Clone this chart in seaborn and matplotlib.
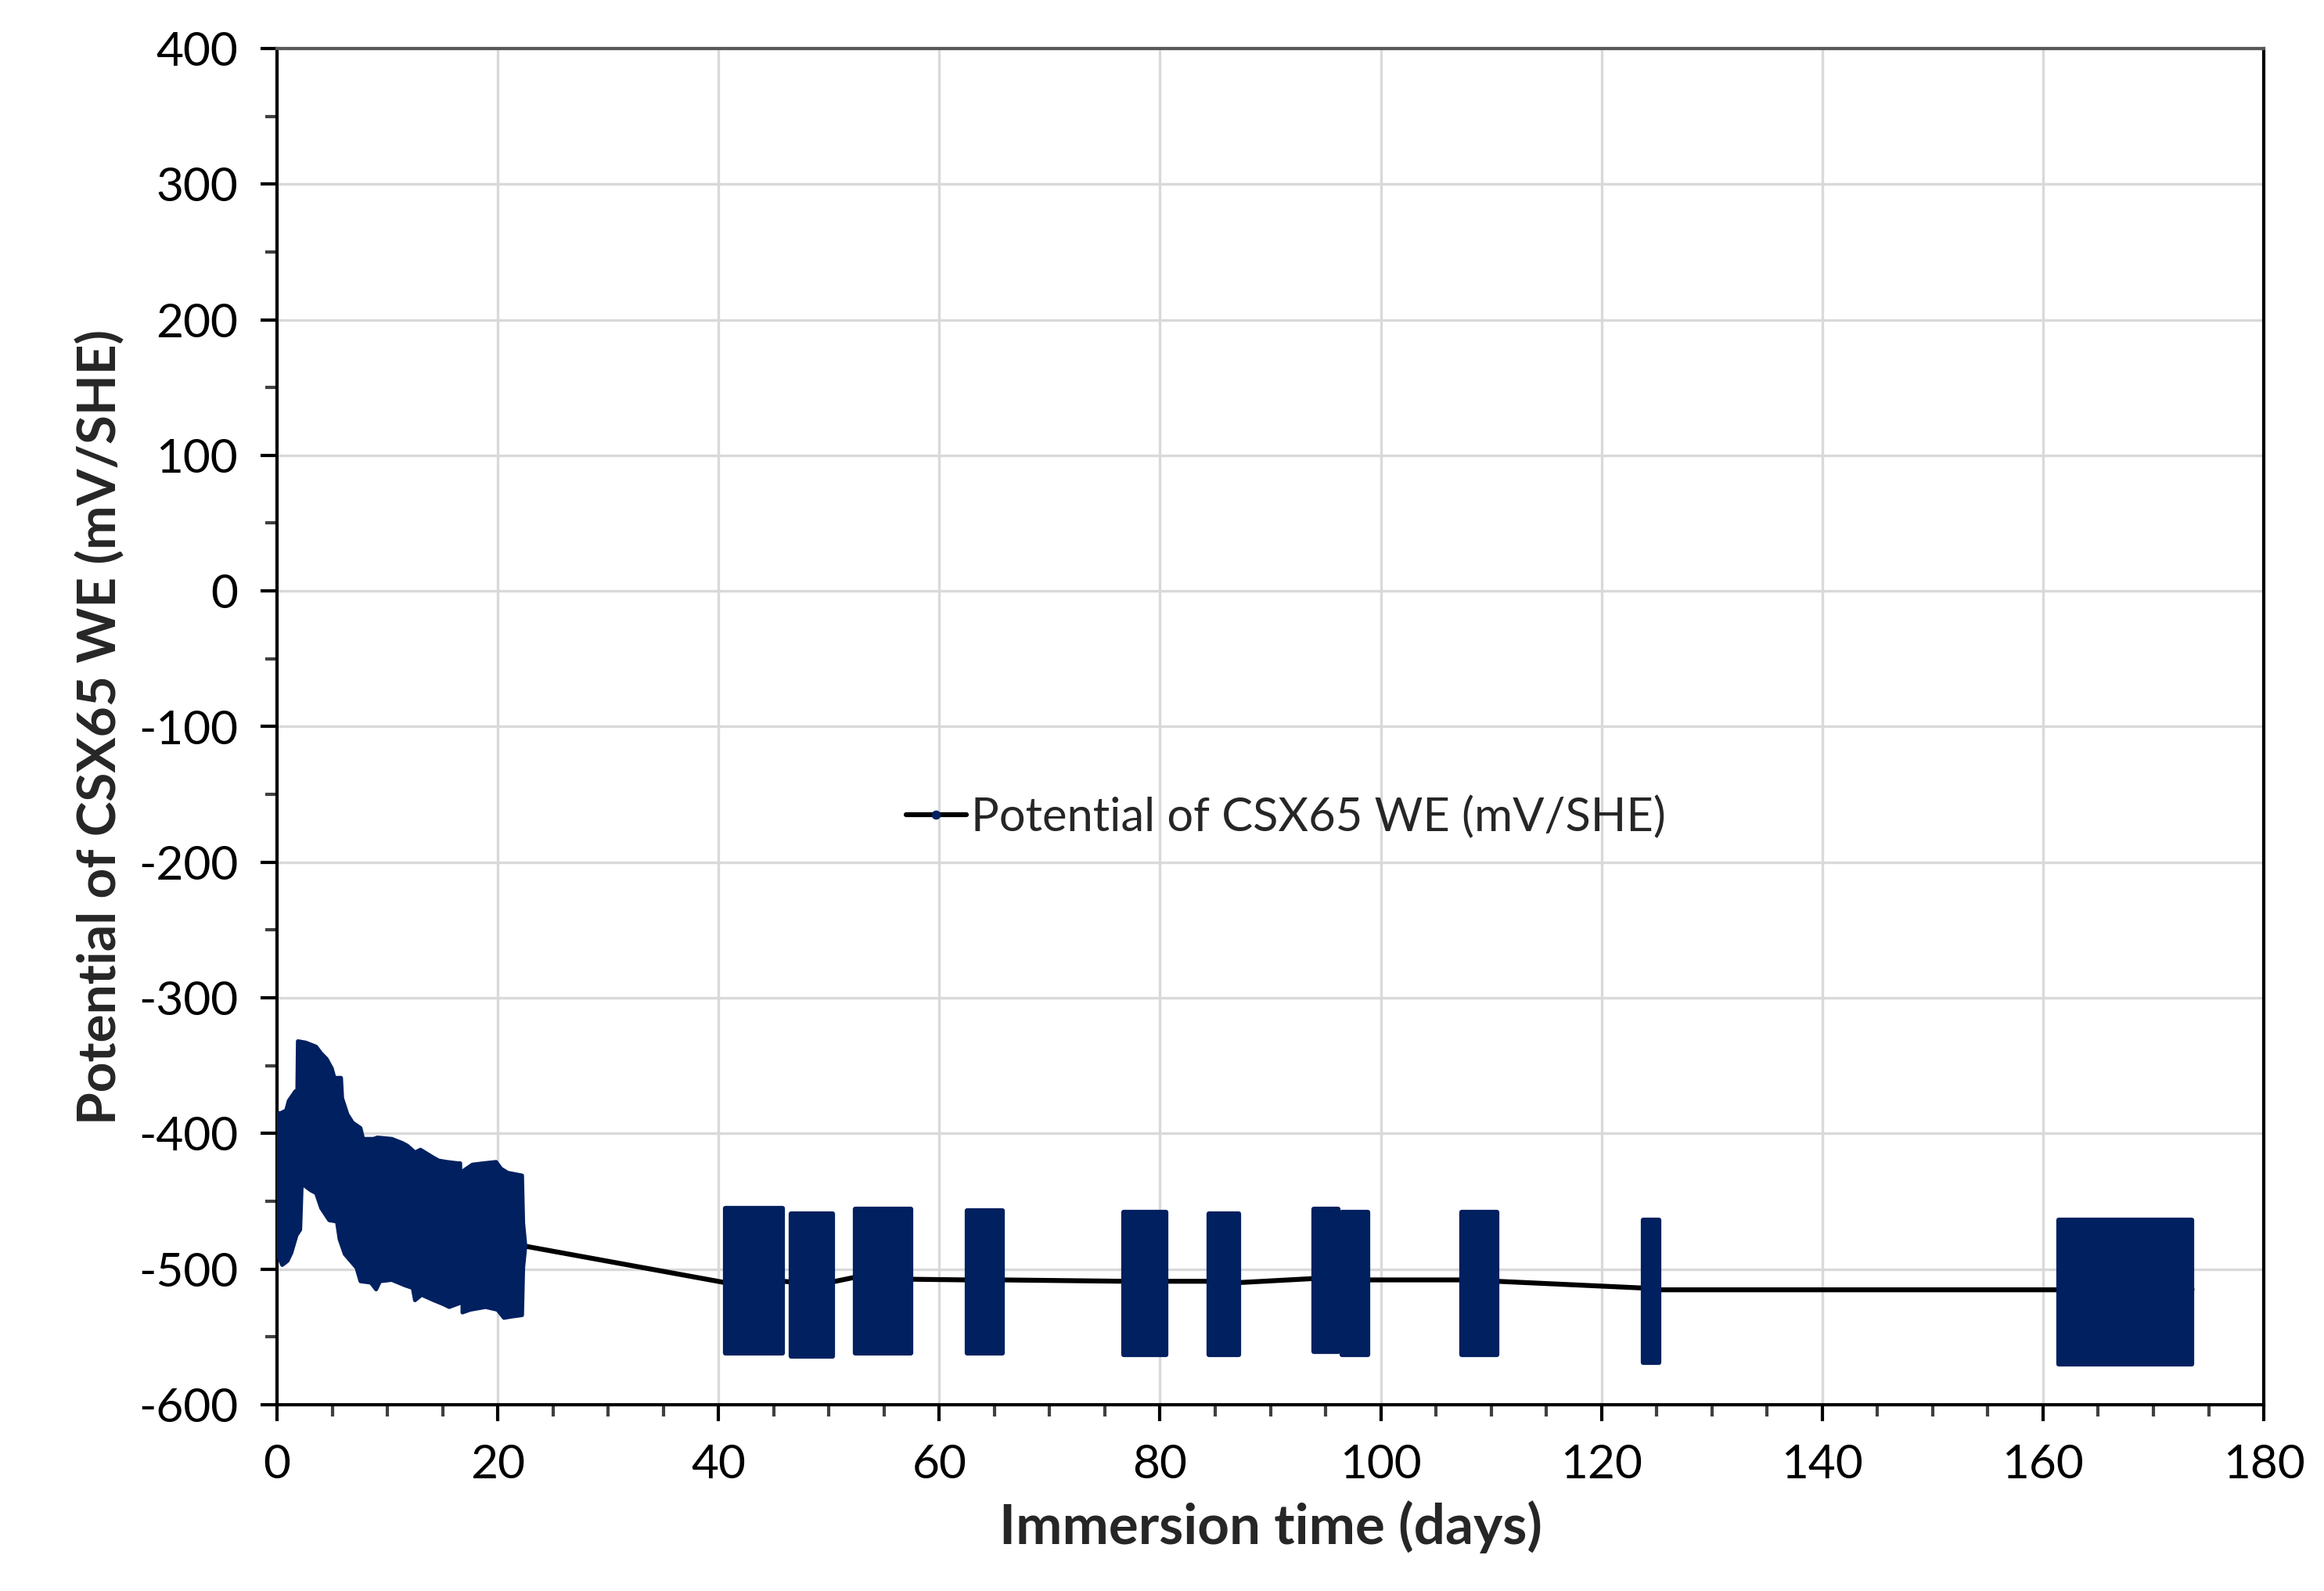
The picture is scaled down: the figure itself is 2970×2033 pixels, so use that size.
import matplotlib
matplotlib.use("Agg")
import matplotlib.pyplot as plt
from matplotlib.ticker import MultipleLocator
from matplotlib.lines import Line2D
import numpy as np
import seaborn as sns

# -----------------------------
# Data
# -----------------------------
# first block (0 - 22 days), upper / lower envelope of the dense oscillation
b1_top_day = [0.0, 0.35, 0.83, 1.06, 1.65, 1.84, 1.89, 2.6, 3.54, 4.0, 4.49, 4.96, 5.2, 5.8, 5.9,
              6.38, 6.85, 7.56, 7.8, 8.74, 9.1, 10.4, 11.34, 11.8, 12.5, 13.0, 14.2, 14.65, 15.4,
              16.4, 16.6]
b1_top_val = [-385, -385, -383, -376, -369, -368, -332, -333, -336, -341, -345, -352, -359, -359, -374,
              -386, -392, -396, -404, -404, -403, -404, -407, -409, -414, -412, -418, -420, -421,
              -422, -422]
b1_bot_day = [0.0, 0.47, 0.95, 1.3, 1.77, 2.1, 2.24, 3.07, 3.54, 4.0, 4.73, 5.43, 5.67, 6.14, 7.2,
              7.56, 8.5, 8.98, 9.33, 10.4, 11.58, 12.3, 12.5, 13.1, 14.2, 15.1, 15.6, 16.6]
b1_bot_val = [-488, -497, -494, -488, -475, -471, -437, -442, -444, -455, -464, -465, -478, -489, -499,
              -509, -510, -515, -509, -508, -512, -514, -523, -519, -523, -526, -528, -525]

b2_top_day = [16.8, 17.7, 18.7, 19.85, 20.3, 20.9, 22.2, 22.3, 22.5]
b2_top_val = [-428, -423, -422, -421, -426, -429, -431, -466, -483]
b2_bot_day = [16.8, 17.5, 18.9, 19.97, 20.56, 21.27, 22.2, 22.3, 22.5]
b2_bot_val = [-532, -530, -528, -530, -536, -535, -534, -499, -483]

# later measurement blocks: start day, end day, upper and lower envelope
blk_start = [40.6, 46.6, 52.4, 62.5, 76.7, 84.4, 93.9, 96.5, 107.3, 123.8, 161.4]
blk_end = [45.8, 50.3, 57.4, 65.7, 80.5, 87.1, 96.1, 98.8, 110.5, 125.2, 173.5]
blk_top = [-455, -459, -456, -457, -458, -459, -456, -458, -458, -464, -464]
blk_bot = [-562, -564, -562, -562, -563, -563, -561, -563, -563, -569, -570]

# line joining the blocks (between measurement periods)
link_day = [22.4, 40.6, 45.8, 46.6, 50.3, 52.4, 57.4, 62.5, 65.7, 76.7, 80.5, 84.4, 87.1,
            93.9, 98.8, 107.3, 110.5, 123.8, 125.2, 161.4, 173.5]
link_val = [-483, -510, -509, -509.5, -509.5, -506, -507.5, -508, -508, -509, -509, -509, -510,
            -507, -508, -508, -509, -514, -515.3, -515.3, -515]

series_name = "Potential of CSX65 WE (mV/SHE)"
navy = "#002060"

# -----------------------------
# Plot
# -----------------------------
sns.set_style("white")
plt.rcParams["font.family"] = ["Lato", "DejaVu Sans"]
plt.rcParams["axes.unicode_minus"] = False

fig, ax = plt.subplots(figsize=(9.9, 6.777), dpi=300)
fig.subplots_adjust(left=0.1192, right=0.9741, top=0.9695, bottom=0.1171)

sns.lineplot(x=link_day, y=link_val, ax=ax, color="black", linewidth=1.5, zorder=2,
             sort=False, estimator=None)

for td, tv, bd, bv in [(b1_top_day, b1_top_val, b1_bot_day, b1_bot_val),
                       (b2_top_day, b2_top_val, b2_bot_day, b2_bot_val)]:
    xs = np.r_[td, bd[::-1]]
    ys = np.r_[tv, bv[::-1]]
    ax.fill(xs, ys, color=navy, lw=1.2, joinstyle="round", zorder=3)

for s, e, t, b in zip(blk_start, blk_end, blk_top, blk_bot):
    ax.fill([s, e, e, s], [t, t, b, b], color=navy, lw=1.5, joinstyle="round", zorder=3)

ax.set_xlim(0, 180)
ax.set_ylim(-600, 400)
ax.xaxis.set_major_locator(MultipleLocator(20))
ax.xaxis.set_minor_locator(MultipleLocator(5))
ax.yaxis.set_major_locator(MultipleLocator(100))
ax.yaxis.set_minor_locator(MultipleLocator(50))

ax.grid(True, which="major", color="#d9d9d9", linewidth=0.8)
ax.set_axisbelow(True)
ax.tick_params(which="major", direction="out", length=5, width=1.0, labelsize=14.5, pad=7,
               colors="black")
ax.tick_params(which="minor", direction="out", length=3.5, width=1.0, color="#404040")
ax.tick_params(axis="x", which="both", bottom=True)
ax.tick_params(axis="y", which="both", left=True)

for side in ["left", "bottom", "right"]:
    ax.spines[side].set_color("black")
    ax.spines[side].set_linewidth(1.0)
ax.spines["top"].set_color("#595959")
ax.spines["top"].set_linewidth(1.0)

ax.set_xlabel("Immersion time (days)", fontsize=17, fontweight="bold", va="center")
ax.set_ylabel(series_name, fontsize=16.2, fontweight="bold", va="center")
ax.xaxis.set_label_coords(0.5, -0.09)
ax.yaxis.set_label_coords(-0.0886, 0.5)

handle = Line2D([], [], color="black", linewidth=1.5, marker="o", markersize=1.8,
                markerfacecolor=navy, markeredgecolor=navy)
ax.legend([handle], [series_name], loc="center left", bbox_to_anchor=(0.3165, 0.433),
          frameon=False, fontsize=14.3, handlelength=1.3, handletextpad=0.1,
          borderpad=0, borderaxespad=0, numpoints=1)

fig.savefig("out.png", dpi=300)
